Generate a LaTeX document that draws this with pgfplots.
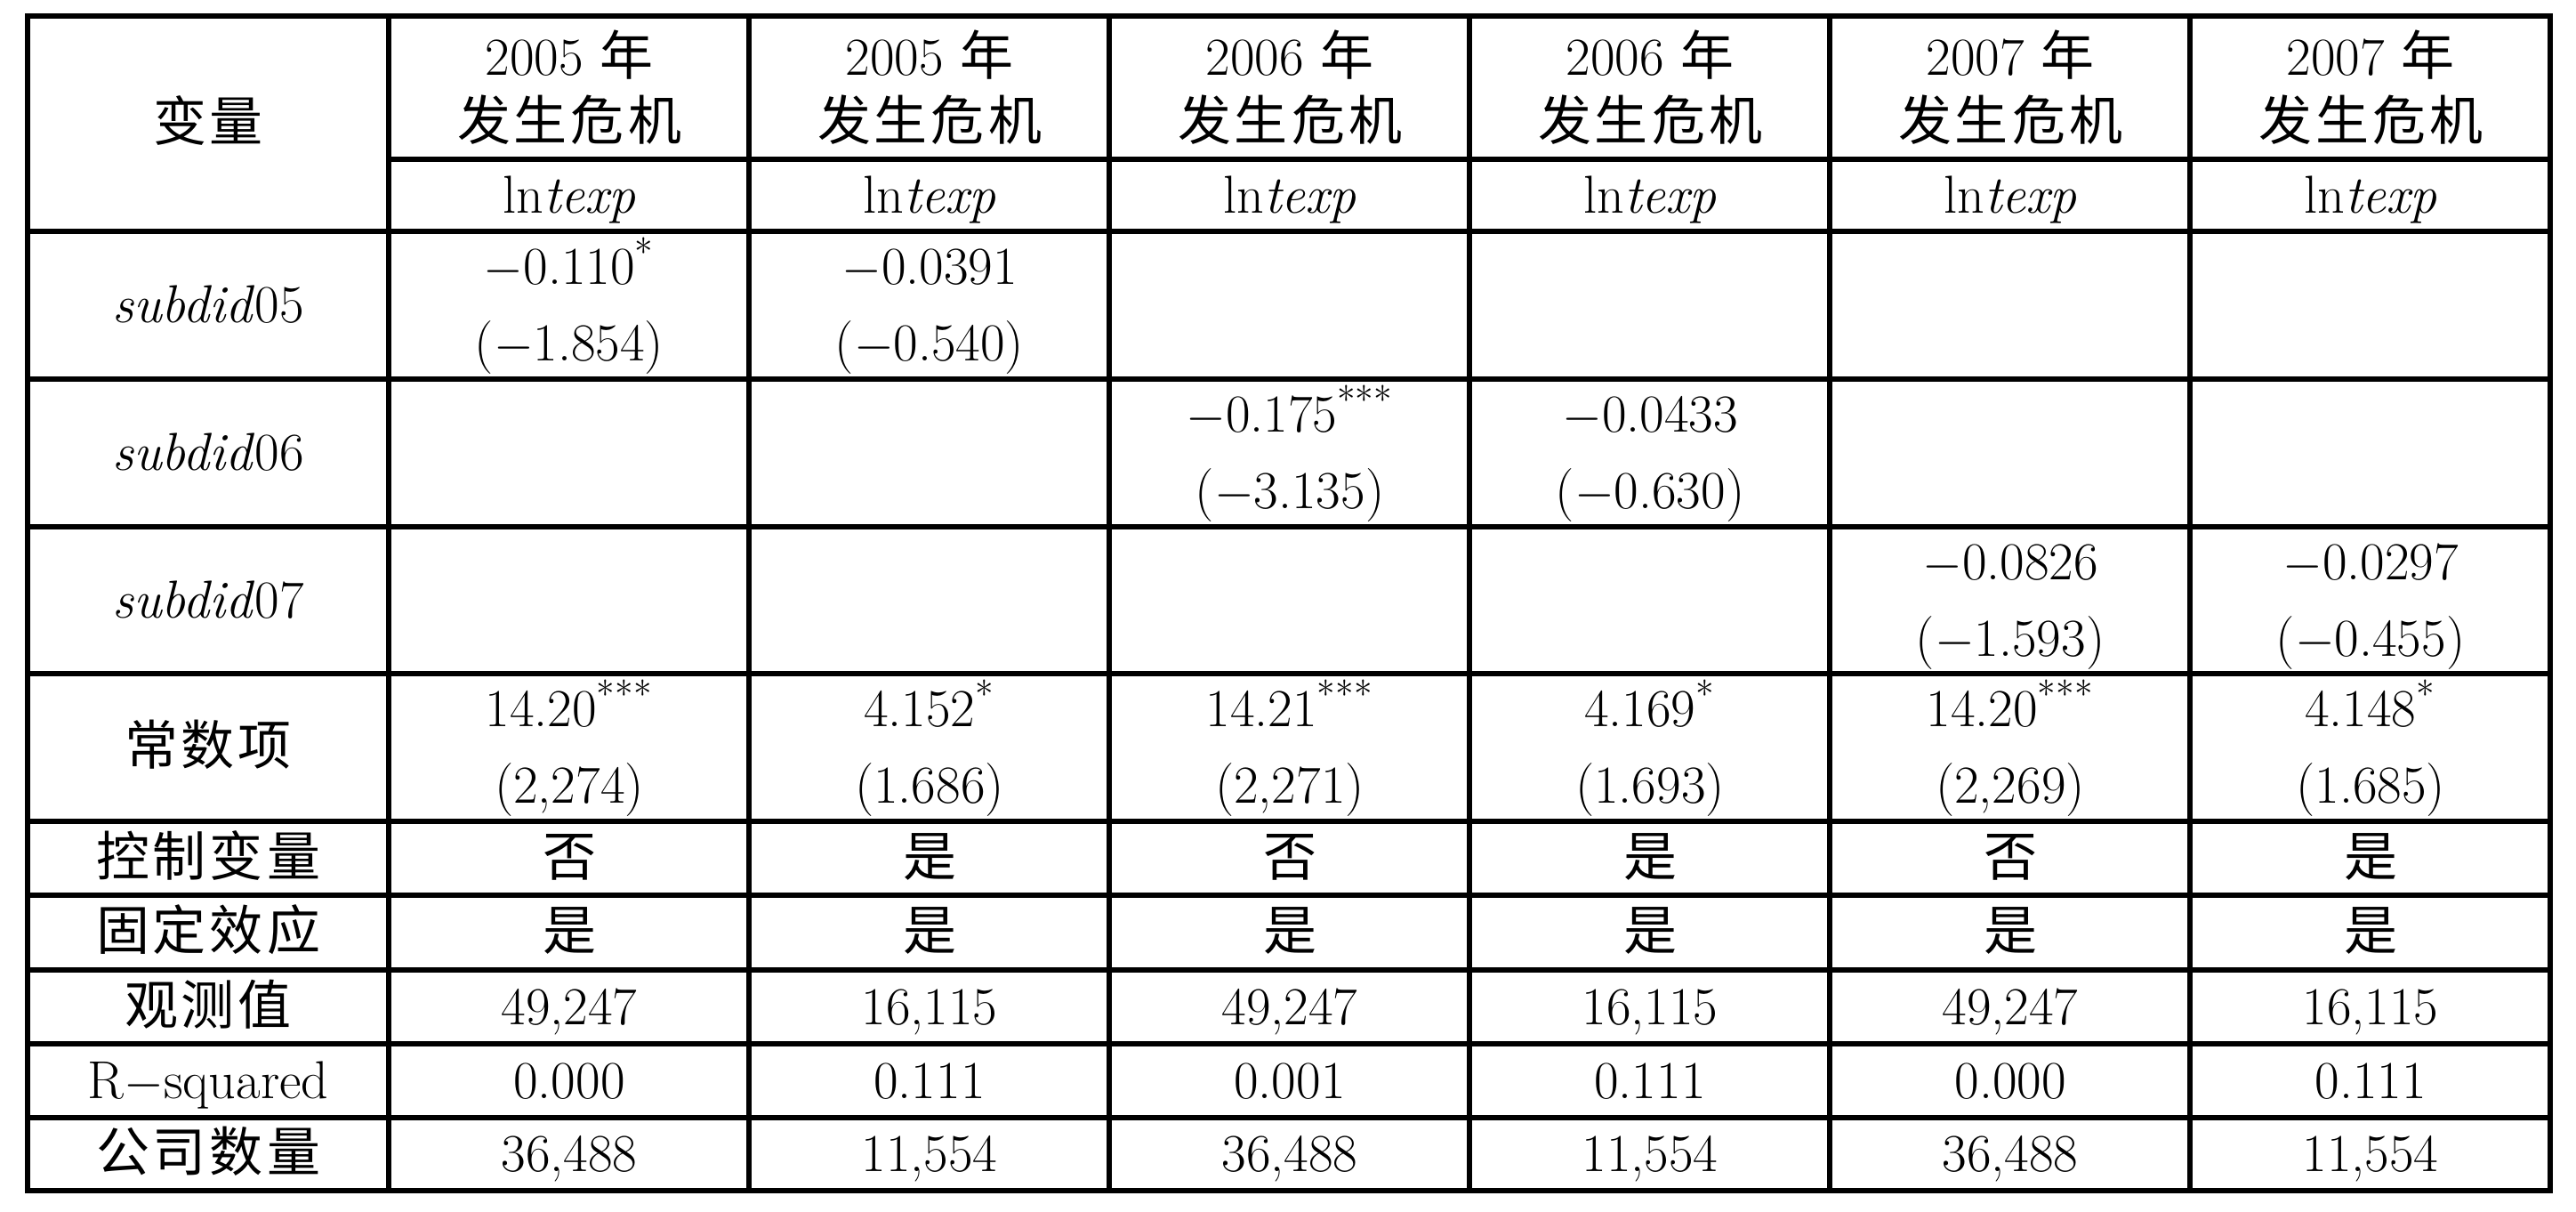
\documentclass[border=0pt]{standalone}
\usepackage{fontspec}
\usepackage{pgfplots}
\pgfplotsset{compat=1.18}
\newfontfamily\cjk{Noto Sans CJK SC}
\newcommand{\mi}{\ensuremath{-}}
\newcommand{\crisis}{{\cjk 发\hspace{1.2pt}生\hspace{1.2pt}危\hspace{1.2pt}机}}
\pgfplotsset{tabrule/.style={black, line width=1.75pt, no markers, line cap=rect, line join=miter, forget plot}}

\begin{document}
\begin{tikzpicture}[txt/.style={font=\fontsize{18}{21}\selectfont, anchor=center, inner sep=0pt, text height=11.7pt, text depth=0pt}]
\begin{axis}[x=0.3pt, y=0.3pt, xmin=0, xmax=2896, ymin=0, ymax=1362, hide axis, clip=false]
\addplot[draw=none, forget plot] coordinates {(0,0) (2896,1362)};
% frame
\addplot[tabrule] coordinates {(31,1344) (2867,1344) (2867,24) (31,24) (31,1344)};
% horizontal rules
\addplot[tabrule] coordinates {(437,1183) (2867,1183)};
\addplot[tabrule] coordinates {(31,1102) (2867,1102)};
\addplot[tabrule] coordinates {(31,936) (2867,936)};
\addplot[tabrule] coordinates {(31,770) (2867,770)};
\addplot[tabrule] coordinates {(31,605) (2867,605)};
\addplot[tabrule] coordinates {(31,439) (2867,439)};
\addplot[tabrule] coordinates {(31,356) (2867,356)};
\addplot[tabrule] coordinates {(31,272) (2867,272)};
\addplot[tabrule] coordinates {(31,189) (2867,189)};
\addplot[tabrule] coordinates {(31,106) (2867,106)};
% vertical rules
\addplot[tabrule] coordinates {(437,24) (437,1344)};
\addplot[tabrule] coordinates {(842,24) (842,1344)};
\addplot[tabrule] coordinates {(1247,24) (1247,1344)};
\addplot[tabrule] coordinates {(1652,24) (1652,1344)};
\addplot[tabrule] coordinates {(2057,24) (2057,1344)};
\addplot[tabrule] coordinates {(2462,24) (2462,1344)};

% header
\node[txt] at (axis cs:234,1223) {\cjk 变\hspace{1.2pt}量};
\node[txt] at (axis cs:640,1297) {2005 {\cjk 年}};
\node[txt] at (axis cs:1045,1297) {2005 {\cjk 年}};
\node[txt] at (axis cs:1450,1297) {2006 {\cjk 年}};
\node[txt] at (axis cs:1855,1297) {2006 {\cjk 年}};
\node[txt] at (axis cs:2260,1297) {2007 {\cjk 年}};
\node[txt] at (axis cs:2665,1297) {2007 {\cjk 年}};
\pgfplotsinvokeforeach{640,1045,1450,1855,2260,2665}{
  \node[txt] at (axis cs:#1,1224) {\crisis};
  \node[txt] at (axis cs:#1,1142) {ln\textit{texp}};
  \node[txt] at (axis cs:#1,314) {\cjk 是};
}

% row labels
\node[txt] at (axis cs:234,1019) {\textit{subdid}05};
\node[txt] at (axis cs:234,853) {\textit{subdid}06};
\node[txt] at (axis cs:234,687) {\textit{subdid}07};
\node[txt] at (axis cs:234,522) {\cjk 常\hspace{1.2pt}数\hspace{1.2pt}项};
\node[txt] at (axis cs:234,397) {\cjk 控\hspace{1.2pt}制\hspace{1.2pt}变\hspace{1.2pt}量};
\node[txt] at (axis cs:234,314) {\cjk 固\hspace{1.2pt}定\hspace{1.2pt}效\hspace{1.2pt}应};
\node[txt] at (axis cs:234,230) {\cjk 观\hspace{1.2pt}测\hspace{1.2pt}值};
\node[txt] at (axis cs:234,147) {R\mi squared};
\node[txt] at (axis cs:234,65) {\cjk 公\hspace{1.2pt}司\hspace{1.2pt}数\hspace{1.2pt}量};

% subdid rows
\node[txt] at (axis cs:640,1062) {\mi0.110\textsuperscript{*}};
\node[txt] at (axis cs:640,976) {(\mi1.854)};
\node[txt] at (axis cs:1045,1062) {\mi0.0391};
\node[txt] at (axis cs:1045,976) {(\mi0.540)};
\node[txt] at (axis cs:1450,896) {\mi0.175\textsuperscript{***}};
\node[txt] at (axis cs:1450,810) {(\mi3.135)};
\node[txt] at (axis cs:1855,896) {\mi0.0433};
\node[txt] at (axis cs:1855,810) {(\mi0.630)};
\node[txt] at (axis cs:2260,730) {\mi0.0826};
\node[txt] at (axis cs:2260,644) {(\mi1.593)};
\node[txt] at (axis cs:2665,730) {\mi0.0297};
\node[txt] at (axis cs:2665,644) {(\mi0.455)};

% constant
\node[txt] at (axis cs:640,565) {14.20\textsuperscript{***}};
\node[txt] at (axis cs:640,479) {(2,274)};
\node[txt] at (axis cs:1045,565) {4.152\textsuperscript{*}};
\node[txt] at (axis cs:1045,479) {(1.686)};
\node[txt] at (axis cs:1450,565) {14.21\textsuperscript{***}};
\node[txt] at (axis cs:1450,479) {(2,271)};
\node[txt] at (axis cs:1855,565) {4.169\textsuperscript{*}};
\node[txt] at (axis cs:1855,479) {(1.693)};
\node[txt] at (axis cs:2260,565) {14.20\textsuperscript{***}};
\node[txt] at (axis cs:2260,479) {(2,269)};
\node[txt] at (axis cs:2665,565) {4.148\textsuperscript{*}};
\node[txt] at (axis cs:2665,479) {(1.685)};

% control variables
\node[txt] at (axis cs:640,397) {\cjk 否};
\node[txt] at (axis cs:1045,397) {\cjk 是};
\node[txt] at (axis cs:1450,397) {\cjk 否};
\node[txt] at (axis cs:1855,397) {\cjk 是};
\node[txt] at (axis cs:2260,397) {\cjk 否};
\node[txt] at (axis cs:2665,397) {\cjk 是};

% observations, R2, firms
\node[txt] at (axis cs:640,230) {49,247};
\node[txt] at (axis cs:1045,230) {16,115};
\node[txt] at (axis cs:1450,230) {49,247};
\node[txt] at (axis cs:1855,230) {16,115};
\node[txt] at (axis cs:2260,230) {49,247};
\node[txt] at (axis cs:2665,230) {16,115};
\node[txt] at (axis cs:640,147) {0.000};
\node[txt] at (axis cs:1045,147) {0.111};
\node[txt] at (axis cs:1450,147) {0.001};
\node[txt] at (axis cs:1855,147) {0.111};
\node[txt] at (axis cs:2260,147) {0.000};
\node[txt] at (axis cs:2665,147) {0.111};
\node[txt] at (axis cs:640,65) {36,488};
\node[txt] at (axis cs:1045,65) {11,554};
\node[txt] at (axis cs:1450,65) {36,488};
\node[txt] at (axis cs:1855,65) {11,554};
\node[txt] at (axis cs:2260,65) {36,488};
\node[txt] at (axis cs:2665,65) {11,554};
\end{axis}
\end{tikzpicture}
\end{document}
